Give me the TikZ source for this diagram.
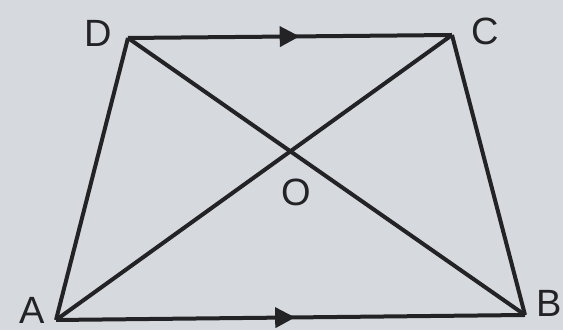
\documentclass[tikz,border=0pt]{standalone}
\usepackage{fontspec}
\setmainfont{Liberation Sans}
\usetikzlibrary{arrows.meta,decorations.markings}
\definecolor{paper}{HTML}{D6D9DD}
\definecolor{ink}{HTML}{232326}
\tikzset{
    side/.style={line width=2pt, ink, line join=miter},
    parmark/.style={postaction={decorate, decoration={markings,
        mark=at position #1 with {\arrow{Triangle[length=10pt,width=10pt]}}}}},
    vlabel/.style={font=\fontsize{19}{20}\selectfont, text=ink, inner sep=0pt}
}
\begin{document}
\begin{tikzpicture}[x=0.5pt, y=-0.5pt]
    \fill[paper] (0,0) rectangle (563,330);
    \useasboundingbox (0,0) rectangle (563,330);
    \coordinate (A) at (56,320);
    \coordinate (B) at (525,315);
    \coordinate (C) at (452,35);
    \coordinate (D) at (128,38);
    \draw[side] (A) -- (D);
    \draw[side] (B) -- (C);
    \draw[side, parmark=0.53] (D) -- (C);
    \draw[side, parmark=0.51] (A) -- (B);
    \draw[side] (A) -- (C);
    \draw[side] (D) -- (B);
    \node[vlabel] (lA) at (32,310) {A};
    \node[vlabel] (lB) at (549,303) {B};
    \node[vlabel] (lC) at (485,31) {C};
    \node[vlabel] (lD) at (98,33) {D};
    \node[vlabel] (lO) at (296,192) {O};
\end{tikzpicture}
\end{document}
